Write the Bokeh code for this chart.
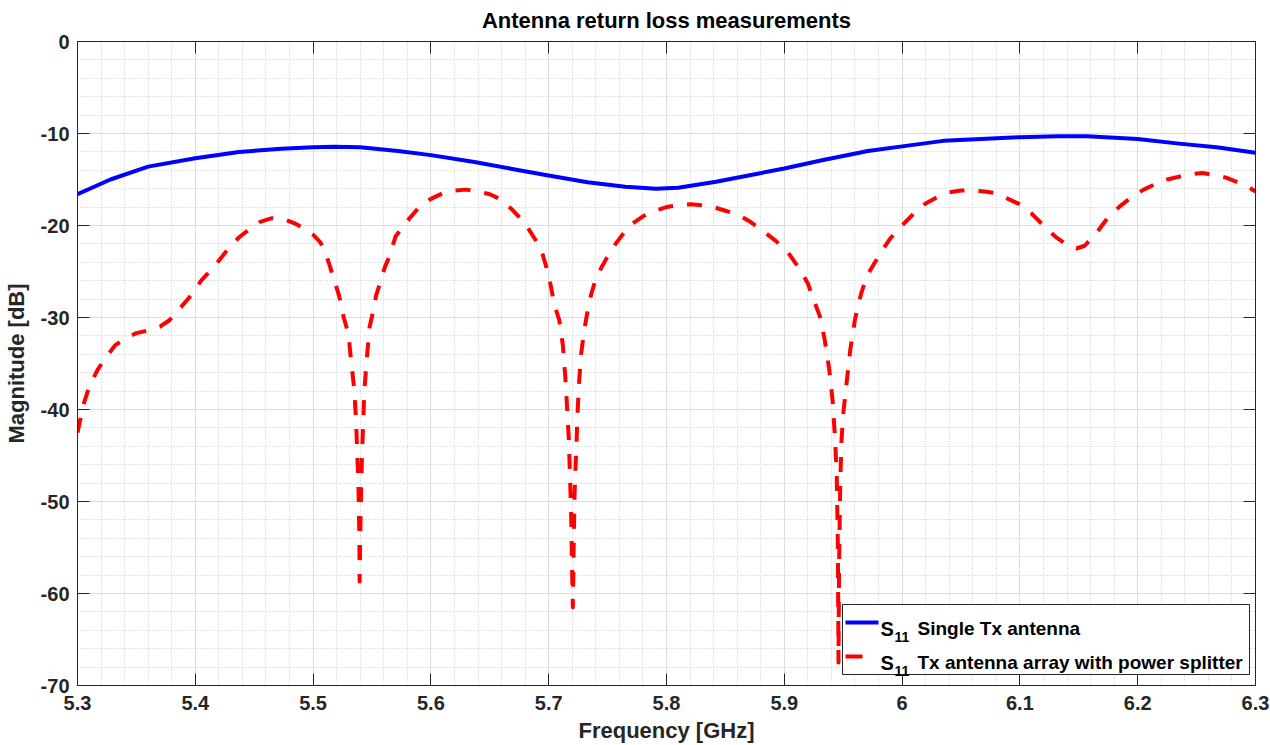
import numpy as np
from bokeh.plotting import figure
from bokeh.models import (FixedTicker, CustomJSTickFormatter, LinearAxis, Range1d,
                          Label, BoxAnnotation, Arrow, CustomLabelingPolicy)
from bokeh.embed import file_html
from bokeh.resources import INLINE

# ---------------- data ----------------
blue_freq = [5.300, 5.328, 5.360, 5.400, 5.437, 5.473, 5.500, 5.518, 5.540, 5.572,
             5.600, 5.637, 5.669, 5.701, 5.733, 5.765, 5.791, 5.810, 5.842, 5.874,
             5.900, 5.932, 5.971, 6.000, 6.035, 6.067, 6.100, 6.132, 6.157, 6.200,
             6.235, 6.267, 6.300]
blue_db = [-16.6, -15.0, -13.6, -12.7, -12.0, -11.67, -11.5, -11.45, -11.5, -11.9,
           -12.35, -13.1, -13.85, -14.6, -15.3, -15.8, -16.0, -15.9, -15.25, -14.45,
           -13.8, -12.9, -11.9, -11.4, -10.8, -10.6, -10.4, -10.3, -10.3, -10.6,
           -11.1, -11.5, -12.1]

red_freq = [5.300, 5.305, 5.310, 5.317, 5.325, 5.332, 5.342, 5.350, 5.360, 5.370, 5.378,
            5.387, 5.395, 5.405, 5.417, 5.427, 5.437, 5.447, 5.455, 5.465, 5.475, 5.485,
            5.492, 5.500, 5.506, 5.510, 5.514, 5.518, 5.522, 5.526, 5.530, 5.532, 5.535,
            5.5365, 5.5375, 5.5385, 5.5393, 5.5395, 5.5400, 5.5407, 5.5415, 5.5425, 5.5435,
            5.5455, 5.548, 5.551, 5.5535, 5.5575, 5.561, 5.564, 5.570, 5.580, 5.590, 5.600,
            5.610, 5.620, 5.630, 5.640, 5.650, 5.660, 5.670, 5.680, 5.690, 5.695, 5.700,
            5.705, 5.709, 5.712, 5.714, 5.7155, 5.717, 5.718, 5.719, 5.7198, 5.7205, 5.7212,
            5.722, 5.7232, 5.7245, 5.7255, 5.7275, 5.730, 5.733, 5.736, 5.740, 5.745, 5.749,
            5.755, 5.762, 5.770, 5.780, 5.790, 5.800, 5.810, 5.820, 5.830, 5.840, 5.850,
            5.860, 5.870, 5.881, 5.893, 5.903, 5.914, 5.920, 5.925, 5.930, 5.934, 5.938,
            5.941, 5.943, 5.9445, 5.9455, 5.9460, 5.9465, 5.9475, 5.9485, 5.950, 5.953,
            5.956, 5.960, 5.965, 5.970, 5.977, 5.982, 5.990, 6.000, 6.010, 6.020, 6.030,
            6.040, 6.050, 6.060, 6.070, 6.080, 6.090, 6.100, 6.110, 6.120, 6.130, 6.140,
            6.148, 6.155, 6.165, 6.175, 6.185, 6.195, 6.205, 6.215, 6.225, 6.235, 6.245,
            6.255, 6.265, 6.275, 6.285, 6.295, 6.300]
red_db = [-42.5, -39.5, -37.5, -35.7, -34.2, -33.0, -32.2, -31.7, -31.4, -31.0, -30.3,
          -29.0, -27.8, -26.0, -24.3, -22.7, -21.3, -20.3, -19.6, -19.2, -19.3, -19.8,
          -20.3, -21.0, -21.8, -22.8, -24.3, -26.0, -27.6, -30.0, -31.8, -34.4, -37.9,
          -41.3, -44.9, -48.3, -54.0, -58.7, -54.0, -49.0, -45.0, -41.5, -38.0,
          -34.6, -31.0, -29.3, -27.6, -26.0, -24.5, -23.6, -21.2, -19.5, -18.0, -17.1,
          -16.5, -16.2, -16.1, -16.3, -16.6, -17.2, -18.4, -19.8, -21.8, -23.2, -25.4,
          -28.7, -30.3, -33.0, -36.3, -39.5, -43.0, -47.0, -51.0, -57.0, -61.5, -55.0,
          -49.0, -45.0, -40.5, -37.5, -34.0, -31.5, -29.3, -27.5, -25.8, -24.5, -23.6,
          -22.3, -21.1, -19.9, -19.0, -18.4, -18.0, -17.8, -17.7, -17.8, -18.0, -18.4,
          -18.8, -19.5, -20.5, -21.7, -22.9, -24.9, -26.3, -28.1, -29.8, -32.2, -35.5,
          -39.0, -43.0, -47.0, -55.0, -67.5, -57.0, -48.0, -43.5, -40.5, -37.0,
          -33.5, -30.2, -27.5, -25.5, -24.0, -22.9, -21.4, -20.0, -18.7, -17.6, -16.9,
          -16.4, -16.2, -16.2, -16.3, -16.5, -17.1, -17.7, -18.7, -20.0, -21.2, -22.1,
          -22.5, -22.2, -20.8, -19.1, -17.9, -16.9, -16.1, -15.5, -15.0, -14.7, -14.4,
          -14.3, -14.5, -14.8, -15.3, -15.9, -16.3]

x_ticks = [5.3, 5.4, 5.5, 5.6, 5.7, 5.8, 5.9, 6.0, 6.1, 6.2, 6.3]
y_ticks = [-70, -60, -50, -40, -30, -20, -10, 0]

title_text = "Antenna return loss measurements"
x_label = "Frequency [GHz]"
y_label = "Magnitude [dB]"
legend_sym = "S"
legend_sub = "11"
legend_labels = ["Single Tx antenna", "Tx antenna array with power splitter"]
series_colors = ["#0000ff", "#ff0000"]

# ---------------- style ----------------
FONT = "Liberation Sans"
AX = "#262626"

x_minor = [v for v in np.round(np.arange(5.3, 6.3001, 0.02), 4) if round(v * 10, 6) % 1 != 0]
y_minor = [v for v in range(-70, 1, 2) if v % 10 != 0]

p = figure(width=1270, height=745, x_range=Range1d(5.3, 6.3), y_range=Range1d(-70, 0),
           output_backend="svg", toolbar_location=None,
           min_border_left=75, min_border_right=15, min_border_top=41, min_border_bottom=59)

p.line(blue_freq, blue_db, line_color=series_colors[0], line_width=4, line_join="round")
p.line(red_freq, red_db, line_color=series_colors[1], line_width=4, line_dash="15 14",
       line_join="round")

xt = FixedTicker(ticks=x_ticks, minor_ticks=x_minor)
yt = FixedTicker(ticks=y_ticks, minor_ticks=y_minor)
p.xaxis.ticker = xt
p.yaxis.ticker = yt
p.xgrid.ticker = xt
p.ygrid.ticker = yt
p.xaxis.formatter = CustomJSTickFormatter(code="return (Math.round(tick*10)/10).toString();")
p.yaxis.formatter = CustomJSTickFormatter(code="return Math.round(tick).toString();")

for ax in [p.xaxis[0], p.yaxis[0]]:
    ax.major_label_text_font = FONT
    ax.major_label_text_font_size = "20px"
    ax.major_label_text_font_style = "bold"
    ax.major_label_text_color = AX
    ax.axis_label_text_font = FONT
    ax.axis_label_text_font_size = "22px"
    ax.axis_label_text_font_style = "bold"
    ax.axis_label_text_color = AX
    ax.major_tick_in = 12
    ax.major_tick_out = 0
    ax.minor_tick_in = 0
    ax.minor_tick_out = 0
    ax.major_tick_line_color = AX
    ax.axis_line_color = AX

p.xaxis.axis_label = x_label
p.yaxis.axis_label = y_label
p.xaxis.major_label_standoff = 10
p.xaxis.axis_label_standoff = 5
p.yaxis.major_label_standoff = 8
p.yaxis.axis_label_standoff = 9

no_labels = CustomLabelingPolicy(code="for (const i of indices) { indices.unset(i) } return indices;")
for loc, tk in [("above", xt), ("right", yt)]:
    a = LinearAxis(ticker=tk, major_label_text_font_size="1px", major_label_standoff=0,
                   major_label_policy=no_labels,
                   major_tick_in=12, major_tick_out=0, minor_tick_in=0, minor_tick_out=0,
                   axis_line_color=AX, major_tick_line_color=AX)
    p.add_layout(a, loc)

p.grid.grid_line_color = "#dedede"
p.grid.grid_line_width = 1
p.grid.minor_grid_line_color = "#c8c8c8"
p.grid.minor_grid_line_dash = "1 2"
p.grid.minor_grid_line_width = 1

p.outline_line_color = AX
p.outline_line_width = 1

p.title.text = title_text
p.title.align = "center"
p.title.text_font = FONT
p.title.text_font_size = "22px"
p.title.text_font_style = "bold"
p.title.text_color = "#000000"

# ---------------- legend (screen units relative to frame) ----------------
p.add_layout(BoxAnnotation(left=765, right=1172, bottom=11, top=81,
                           left_units="screen", right_units="screen",
                           bottom_units="screen", top_units="screen",
                           fill_color="white", fill_alpha=1.0,
                           line_color=AX, line_width=1, line_alpha=1.0))
rows_y = [63, 29]
dashes = ["solid", "17 20"]
for i in range(2):
    p.add_layout(Arrow(x_start=768, y_start=rows_y[i], x_end=801, y_end=rows_y[i],
                       start_units="screen", end_units="screen", end=None,
                       line_color=series_colors[i], line_width=4, line_dash=dashes[i]))
    p.add_layout(Label(x=803, y=rows_y[i] - 6, x_units="screen", y_units="screen",
                       text=legend_sym, text_font=FONT, text_font_size="20px",
                       text_font_style="bold", text_color="#000000",
                       text_baseline="alphabetic"))
    p.add_layout(Label(x=817, y=rows_y[i] - 14, x_units="screen", y_units="screen",
                       text=legend_sub, text_font=FONT, text_font_size="14px",
                       text_font_style="bold", text_color="#000000",
                       text_baseline="alphabetic"))
    p.add_layout(Label(x=840, y=rows_y[i] - 6, x_units="screen", y_units="screen",
                       text=legend_labels[i], text_font=FONT, text_font_size="19px",
                       text_font_style="bold", text_color="#000000",
                       text_baseline="alphabetic"))

open("out.html", "w").write(file_html(p, INLINE))
